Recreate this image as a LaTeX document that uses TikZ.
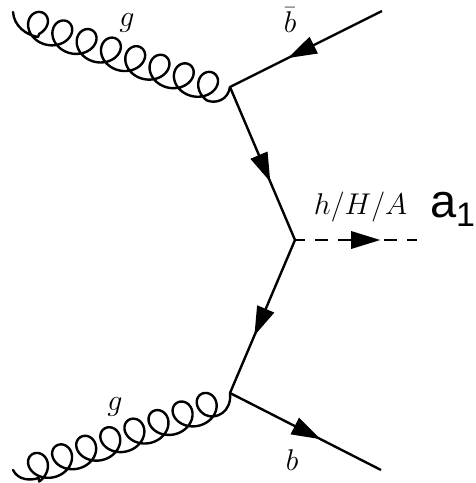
\RequirePackage{fix-cm}
\documentclass[tikz,border=0pt]{standalone}
\usepackage{fontspec}
\newfontfamily\arialish{Liberation Sans}
\usetikzlibrary{decorations.markings,arrows.meta}
\tikzset{
 x=1pt,y=-1pt,
 declare function={
  gx(\t)=\t*24.3/(2*pi)+15.5*sin(\t r);
  gyt(\t)=\t*8.57/(2*pi)-14.5*(1-cos(\t r));
  hx(\t)=\t*24.1/(2*pi)+15.5*sin(\t r);
  hy(\t)=-\t*8.57/(2*pi)-14.5*(1-cos(\t r));
 },
 line/.style={line width=2.4pt,black},
 fermion/.style={line,postaction={decorate,decoration={markings,mark=at position #1 with {\arrow{Triangle[length=29pt,width=18pt]}}}}},
 gluon/.style={line,line join=round,line cap=round},
 scalar/.style={line,dash pattern=on 13pt off 10pt,dash phase=3pt},
 lab/.style={inner sep=0pt,font=\fontsize{30}{30}\selectfont},
 biglab/.style={inner sep=0pt,anchor=base west,font=\arialish\fontsize{47}{47}\selectfont},
 sublab/.style={inner sep=0pt,anchor=base west,font=\arialish\fontsize{34}{34}\selectfont}
}
\begin{document}
\begin{tikzpicture}
\useasboundingbox (0,0) rectangle (475,483);
\coordinate (gt) at (13,12);
\coordinate (gb) at (13,470);
\coordinate (v1) at (230,87);
\coordinate (v2) at (295,240);
\coordinate (v3) at (230,393);
\coordinate (bt) at (382,11);
\coordinate (bb) at (381,470);
\coordinate (s) at (417,240);
\coordinate (sm) at (381,240);
\draw[gluon] (gt) .. controls (14,26) and (26,35) .. (38,37)
  -- plot[domain=0.74:49.53,samples=500,smooth,variable=\t] ({25.85+gx(\t)},{36.7+gyt(\t)})
  .. controls (216,104) and (228,100) .. (v1);
\draw[gluon] (gb) .. controls (18,480) and (30,481) .. (38.5,478)
  -- plot[domain=0.74:49.53,samples=500,smooth,variable=\t] ({25.95+hx(\t)},{486.3+hy(\t)})
  .. controls (216,420) and (232,412) .. (v3);
\draw[fermion=0.62] (bt) -- (v1);
\draw[fermion=0.62] (v1) -- (v2);
\draw[fermion=0.625] (v2) -- (v3);
\draw[fermion=0.6] (v3) -- (bb);
\draw[scalar] (v2) -- (s);
\path[fermion=0.99,draw=none,line width=0pt] (v2) -- (sm);
\node[lab] (l1) at (127,23) {$g$};
\node[lab] (l2) at (115,407) {$g$};
\node[lab] (l3) at (290,20) {$\bar b$};
\node[lab] (l4) at (292,460) {$b$};
\node[lab] (l5) at (360.5,207) {$h/H/A$};
\node[biglab] (l6) at (430,217) {a};
\node[sublab] (l7) at (456,226) {1};
\end{tikzpicture}
\end{document}
